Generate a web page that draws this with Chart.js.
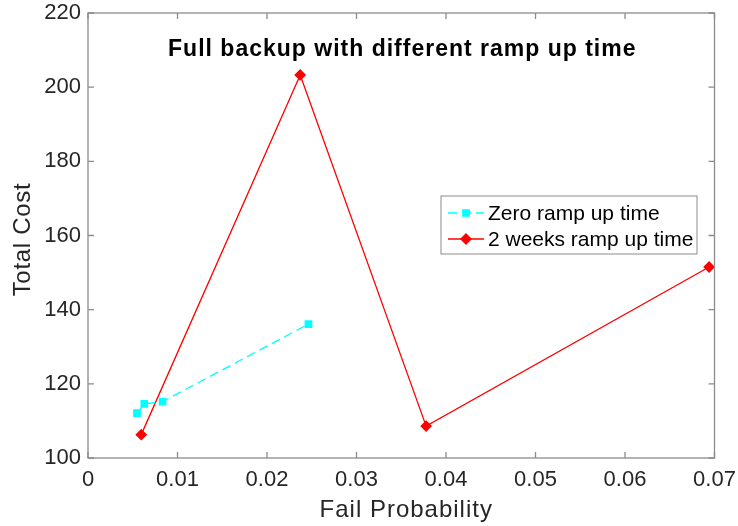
<!DOCTYPE html>
<html>
<head>
<meta charset="utf-8">
<script src="https://cdn.jsdelivr.net/npm/chart.js@4/dist/chart.umd.min.js"></script>
<style>
  html, body { margin: 0; padding: 0; background: #fff; }
  #wrap { width: 738px; height: 526px; }
</style>
</head>
<body>
<div id="wrap"><canvas id="myChart" width="738" height="526"></canvas></div>
<script>
// values
var zeroX = [0.00547, 0.00629, 0.00833, 0.02463];
var zeroY = [112.1, 114.6, 115.2, 136.1];
var weeksX = [0.00595, 0.02371, 0.03778, 0.0694];
var weeksY = [106.3, 203.3, 108.6, 151.5];
var seriesNames = ['Zero ramp up time', '2 weeks ramp up time'];
var chartTitle = 'Full backup with different ramp up time';
var xLabel = 'Fail Probability';
var yLabel = 'Total Cost';
var xTicks = [0, 0.01, 0.02, 0.03, 0.04, 0.05, 0.06, 0.07];
var yTicks = [100, 120, 140, 160, 180, 200, 220];

var FONT = "'Liberation Sans', Arial, sans-serif";
var AXIS = '#8c8c8c';

function toPoints(xs, ys) {
    return xs.map(function (x, i) { return { x: x, y: ys[i] }; });
}

// frame, inward ticks, titles and legend drawn like the matlab figure
var matlabBits = {
    id: 'matlabBits',
    afterDraw: function (chart) {
        var ctx = chart.ctx;
        var a = chart.chartArea;
        var xs = chart.scales.x, ys = chart.scales.y;
        ctx.save();
        ctx.strokeStyle = AXIS;
        ctx.lineWidth = 1.3;
        ctx.strokeRect(a.left, a.top, a.right - a.left, a.bottom - a.top);
        ctx.beginPath();
        xTicks.forEach(function (v) {
            var px = xs.getPixelForValue(v);
            ctx.moveTo(px, a.bottom); ctx.lineTo(px, a.bottom - 6);
            ctx.moveTo(px, a.top); ctx.lineTo(px, a.top + 6);
        });
        yTicks.forEach(function (v) {
            var py = ys.getPixelForValue(v);
            ctx.moveTo(a.left, py); ctx.lineTo(a.left + 6, py);
            ctx.moveTo(a.right, py); ctx.lineTo(a.right - 6, py);
        });
        ctx.stroke();

        // title
        ctx.fillStyle = '#000';
        ctx.font = 'bold 23px ' + FONT;
        ctx.letterSpacing = '1px';
        ctx.textAlign = 'center';
        ctx.textBaseline = 'middle';
        ctx.fillText(chartTitle, (a.left + a.right) / 2 + 1, 50);

        // axis titles
        ctx.fillStyle = '#262626';
        ctx.font = '24px ' + FONT;
        ctx.letterSpacing = '1px';
        ctx.fillText(xLabel, (a.left + a.right) / 2 + 5, 510);
        ctx.save();
        ctx.translate(23, (a.top + a.bottom) / 2 + 4);
        ctx.rotate(-Math.PI / 2);
        ctx.letterSpacing = '0.7px';
        ctx.fillText(yLabel, 0, 0);
        ctx.restore();
        ctx.letterSpacing = '0px';

        // legend box
        var lx = 441, ly = 196, lw = 256, lh = 58;
        ctx.fillStyle = '#fff';
        ctx.fillRect(lx, ly, lw, lh);
        ctx.strokeStyle = '#8c8c8c';
        ctx.lineWidth = 1;
        ctx.strokeRect(lx, ly, lw, lh);
        ctx.font = '21px ' + FONT;
        ctx.textAlign = 'left';
        chart.data.datasets.forEach(function (ds, i) {
            var yy = ly + 17 + i * 26;
            ctx.strokeStyle = ds.borderColor;
            ctx.lineWidth = ds.borderWidth;
            ctx.setLineDash(ds.borderDash || []);
            ctx.beginPath();
            ctx.moveTo(lx + 7, yy); ctx.lineTo(lx + 43, yy);
            ctx.stroke();
            ctx.setLineDash([]);
            Chart.helpers.drawPoint(ctx, {
                pointStyle: ds.pointStyle, radius: ds.pointRadius, borderWidth: 1
            }, lx + 25, yy);
            ctx.fillStyle = ds.pointBackgroundColor;
            ctx.fill();
            ctx.fillStyle = '#000';
            ctx.fillText(ds.label, lx + 47, yy + 1);
        });
        ctx.restore();
    }
};

var ctx = document.getElementById('myChart').getContext('2d');
var myChart = new Chart(ctx, {
    type: 'scatter',
    data: {
        datasets: [{
            label: seriesNames[0],
            data: toPoints(zeroX, zeroY),
            showLine: true,
            borderColor: '#00ffff',
            backgroundColor: '#00ffff',
            pointBackgroundColor: '#00ffff',
            pointBorderColor: '#00ffff',
            borderWidth: 1.3,
            borderDash: [9, 5],
            pointStyle: 'rect',
            pointRadius: 4.5
        }, {
            label: seriesNames[1],
            data: toPoints(weeksX, weeksY),
            showLine: true,
            borderColor: '#ff0000',
            backgroundColor: '#ff0000',
            pointBackgroundColor: '#ff0000',
            pointBorderColor: '#ff0000',
            borderWidth: 1.3,
            pointStyle: 'rectRot',
            pointRadius: 5
        }]
    },
    options: {
        responsive: false,
        animation: false,
        layout: { padding: { top: 13, right: 23.5, left: 0, bottom: 0 } },
        plugins: {
            legend: { display: false },
            tooltip: { enabled: false }
        },
        scales: {
            x: {
                type: 'linear',
                min: 0, max: 0.07,
                afterBuildTicks: function (s) { s.ticks = xTicks.map(function (v) { return { value: v }; }); },
                afterFit: function (s) {
                    s.height = 68;
                    s.paddingLeft = 0; s.paddingRight = 0;
                },
                grid: { display: false, drawTicks: false },
                border: { display: false },
                ticks: {
                    padding: 9,
                    color: '#262626',
                    font: { family: FONT, size: 22 },
                    callback: function (v) { return String(v); }
                }
            },
            y: {
                type: 'linear',
                min: 100, max: 220,
                afterBuildTicks: function (s) { s.ticks = yTicks.map(function (v) { return { value: v }; }); },
                afterFit: function (s) {
                    s.width = 88;
                    s.paddingTop = 0; s.paddingBottom = 0;
                },
                grid: { display: false, drawTicks: false },
                border: { display: false },
                ticks: {
                    padding: 7,
                    color: '#262626',
                    font: { family: FONT, size: 22 }
                }
            }
        }
    },
    plugins: [matlabBits]
});
</script>
</body>
</html>
